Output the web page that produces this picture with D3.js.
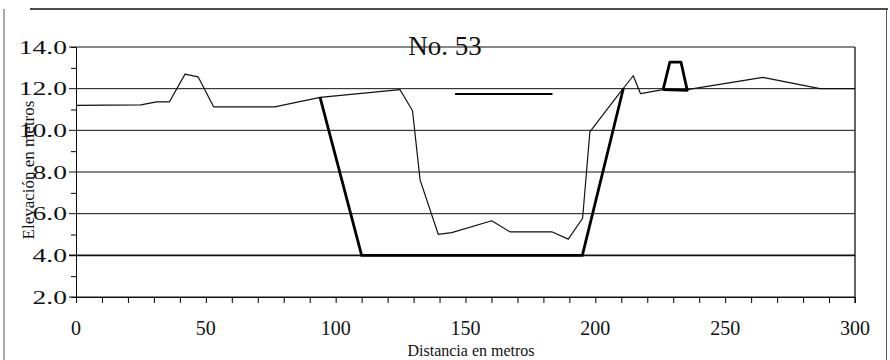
<!DOCTYPE html>
<html>
<head>
<meta charset="utf-8">
<script src="https://cdn.jsdelivr.net/npm/d3@7"></script>
<style>
  body { margin: 0; background: #fff; }
  text { font-family: "Liberation Serif", "Times New Roman", serif; fill: #111; }
</style>
</head>
<body>
<div id="chart"></div>
<script>
// Values
var groundX = [0, 25, 31, 36, 42, 47, 53, 76.5, 94, 124.8, 129.6, 132.5, 139.5, 144.7, 160.1, 167.1, 183.2, 189.6, 195.1, 197.9, 208.8, 210.8, 214.6, 217.4, 226.1, 235.4, 264.5, 286.5, 300];
var groundY = [11.2, 11.22, 11.37, 11.37, 12.7, 12.57, 11.13, 11.13, 11.58, 11.95, 10.94, 7.62, 5.01, 5.09, 5.66, 5.13, 5.13, 4.78, 5.78, 9.93, 11.7, 12.02, 12.62, 11.76, 11.95, 11.95, 12.54, 12.0, 12.0];

var channelX = [94, 110, 195, 210.8];
var channelY = [11.58, 4.0, 4.0, 12.02];

var bermX = [226.1, 228.7, 233, 235.4, 226.1];
var bermY = [11.95, 13.27, 13.27, 11.92, 11.95];

var waterX = [146, 183.5];
var waterY = [11.75, 11.75];

var xTicks = [0, 50, 100, 150, 200, 250, 300];
var yTicks = [2, 4, 6, 8, 10, 12, 14];
var yTickLabels = ["2.0", "4.0", "6.0", "8.0", "10.0", "12.0", "14.0"];

(function() {
    var width = 890,
        height = 360;

    var svg = d3.select("#chart")
        .append("svg")
        .attr("width", width)
        .attr("height", height);

    var x = d3.scaleLinear().domain([0, 300]).range([76, 855]);
    var y = d3.scaleLinear().domain([2, 14]).range([297, 47]);

    // outer frame of the scanned page
    svg.append("line").attr("x1", 30).attr("x2", 888).attr("y1", 9).attr("y2", 9)
        .attr("stroke", "#111").attr("stroke-width", 1.6);
    svg.append("line").attr("x1", 4).attr("x2", 4).attr("y1", 9).attr("y2", 360)
        .attr("stroke", "#555").attr("stroke-width", 1);
    svg.append("line").attr("x1", 886.5).attr("x2", 886.5).attr("y1", 9).attr("y2", 360)
        .attr("stroke", "#555").attr("stroke-width", 1);

    // horizontal grid lines (with a small stub left of the axis)
    svg.selectAll(".grid")
        .data(yTicks)
        .enter().append("line")
        .attr("class", "grid")
        .attr("x1", 69)
        .attr("x2", x(300))
        .attr("y1", function(d) { return y(d); })
        .attr("y2", function(d) { return y(d); })
        .attr("stroke", "#111")
        .attr("stroke-width", function(d) { return d === 4 ? 1.6 : 1; });

    // minor y ticks every 1 m
    svg.append("g")
        .attr("transform", "translate(" + x(0) + ",0)")
        .call(d3.axisLeft(y).tickValues(d3.range(3, 14, 2)).tickSize(5).tickFormat(""))
        .call(function(g) { g.select(".domain").attr("stroke", "#111"); });

    // minor x ticks every 10 m
    svg.append("g")
        .attr("transform", "translate(0," + y(2) + ")")
        .call(d3.axisBottom(x).tickValues(d3.range(0, 301, 10)).tickSize(6).tickSizeOuter(0).tickFormat(""))
        .call(function(g) { g.select(".domain").attr("stroke", "#111"); });

    // right border of plot
    svg.append("line")
        .attr("x1", x(300)).attr("x2", x(300))
        .attr("y1", y(14)).attr("y2", y(2) + 6)
        .attr("stroke", "#111").attr("stroke-width", 1.3);

    // y tick labels, stretched like the scan
    svg.selectAll(".ylab")
        .data(yTicks)
        .enter().append("text")
        .attr("class", "ylab")
        .attr("transform", function(d) { return "translate(67," + (y(d) + 6.5) + ") scale(1.45,1)"; })
        .attr("text-anchor", "end")
        .attr("font-size", 19)
        .text(function(d, i) { return yTickLabels[i]; });

    // x tick labels
    svg.selectAll(".xlab")
        .data(xTicks)
        .enter().append("text")
        .attr("class", "xlab")
        .attr("x", function(d) { return x(d); })
        .attr("y", 335)
        .attr("text-anchor", "middle")
        .attr("font-size", 20)
        .text(function(d) { return d; });

    var line = d3.line()
        .x(function(d) { return x(d[0]); })
        .y(function(d) { return y(d[1]); });

    function pts(xs, ys) { return xs.map(function(v, i) { return [v, ys[i]]; }); }

    // ground profile (thin)
    svg.append("path")
        .datum(pts(groundX, groundY))
        .attr("d", line)
        .attr("fill", "none")
        .attr("stroke", "#111")
        .attr("stroke-width", 1.2)
        .attr("stroke-linejoin", "round");

    // design channel (thick)
    svg.append("path")
        .datum(pts(channelX, channelY))
        .attr("d", line)
        .attr("fill", "none")
        .attr("stroke", "#000")
        .attr("stroke-width", 2.8);

    svg.append("path")
        .datum(pts(bermX, bermY))
        .attr("d", line)
        .attr("fill", "none")
        .attr("stroke", "#000")
        .attr("stroke-width", 2.8)
        .attr("stroke-linejoin", "round");

    // water level
    svg.append("path")
        .datum(pts(waterX, waterY))
        .attr("d", line)
        .attr("fill", "none")
        .attr("stroke", "#000")
        .attr("stroke-width", 2);

    // titles
    svg.append("text")
        .attr("x", 445)
        .attr("y", 55)
        .attr("text-anchor", "middle")
        .attr("font-size", 27)
        .text("No. 53");

    svg.append("text")
        .attr("x", 471)
        .attr("y", 356)
        .attr("text-anchor", "middle")
        .attr("font-size", 16)
        .text("Distancia en metros");

    svg.append("text")
        .attr("transform", "translate(34,170) rotate(-90)")
        .attr("text-anchor", "middle")
        .attr("font-size", 17)
        .text("Elevación en metros");
})();
</script>
</body>
</html>
